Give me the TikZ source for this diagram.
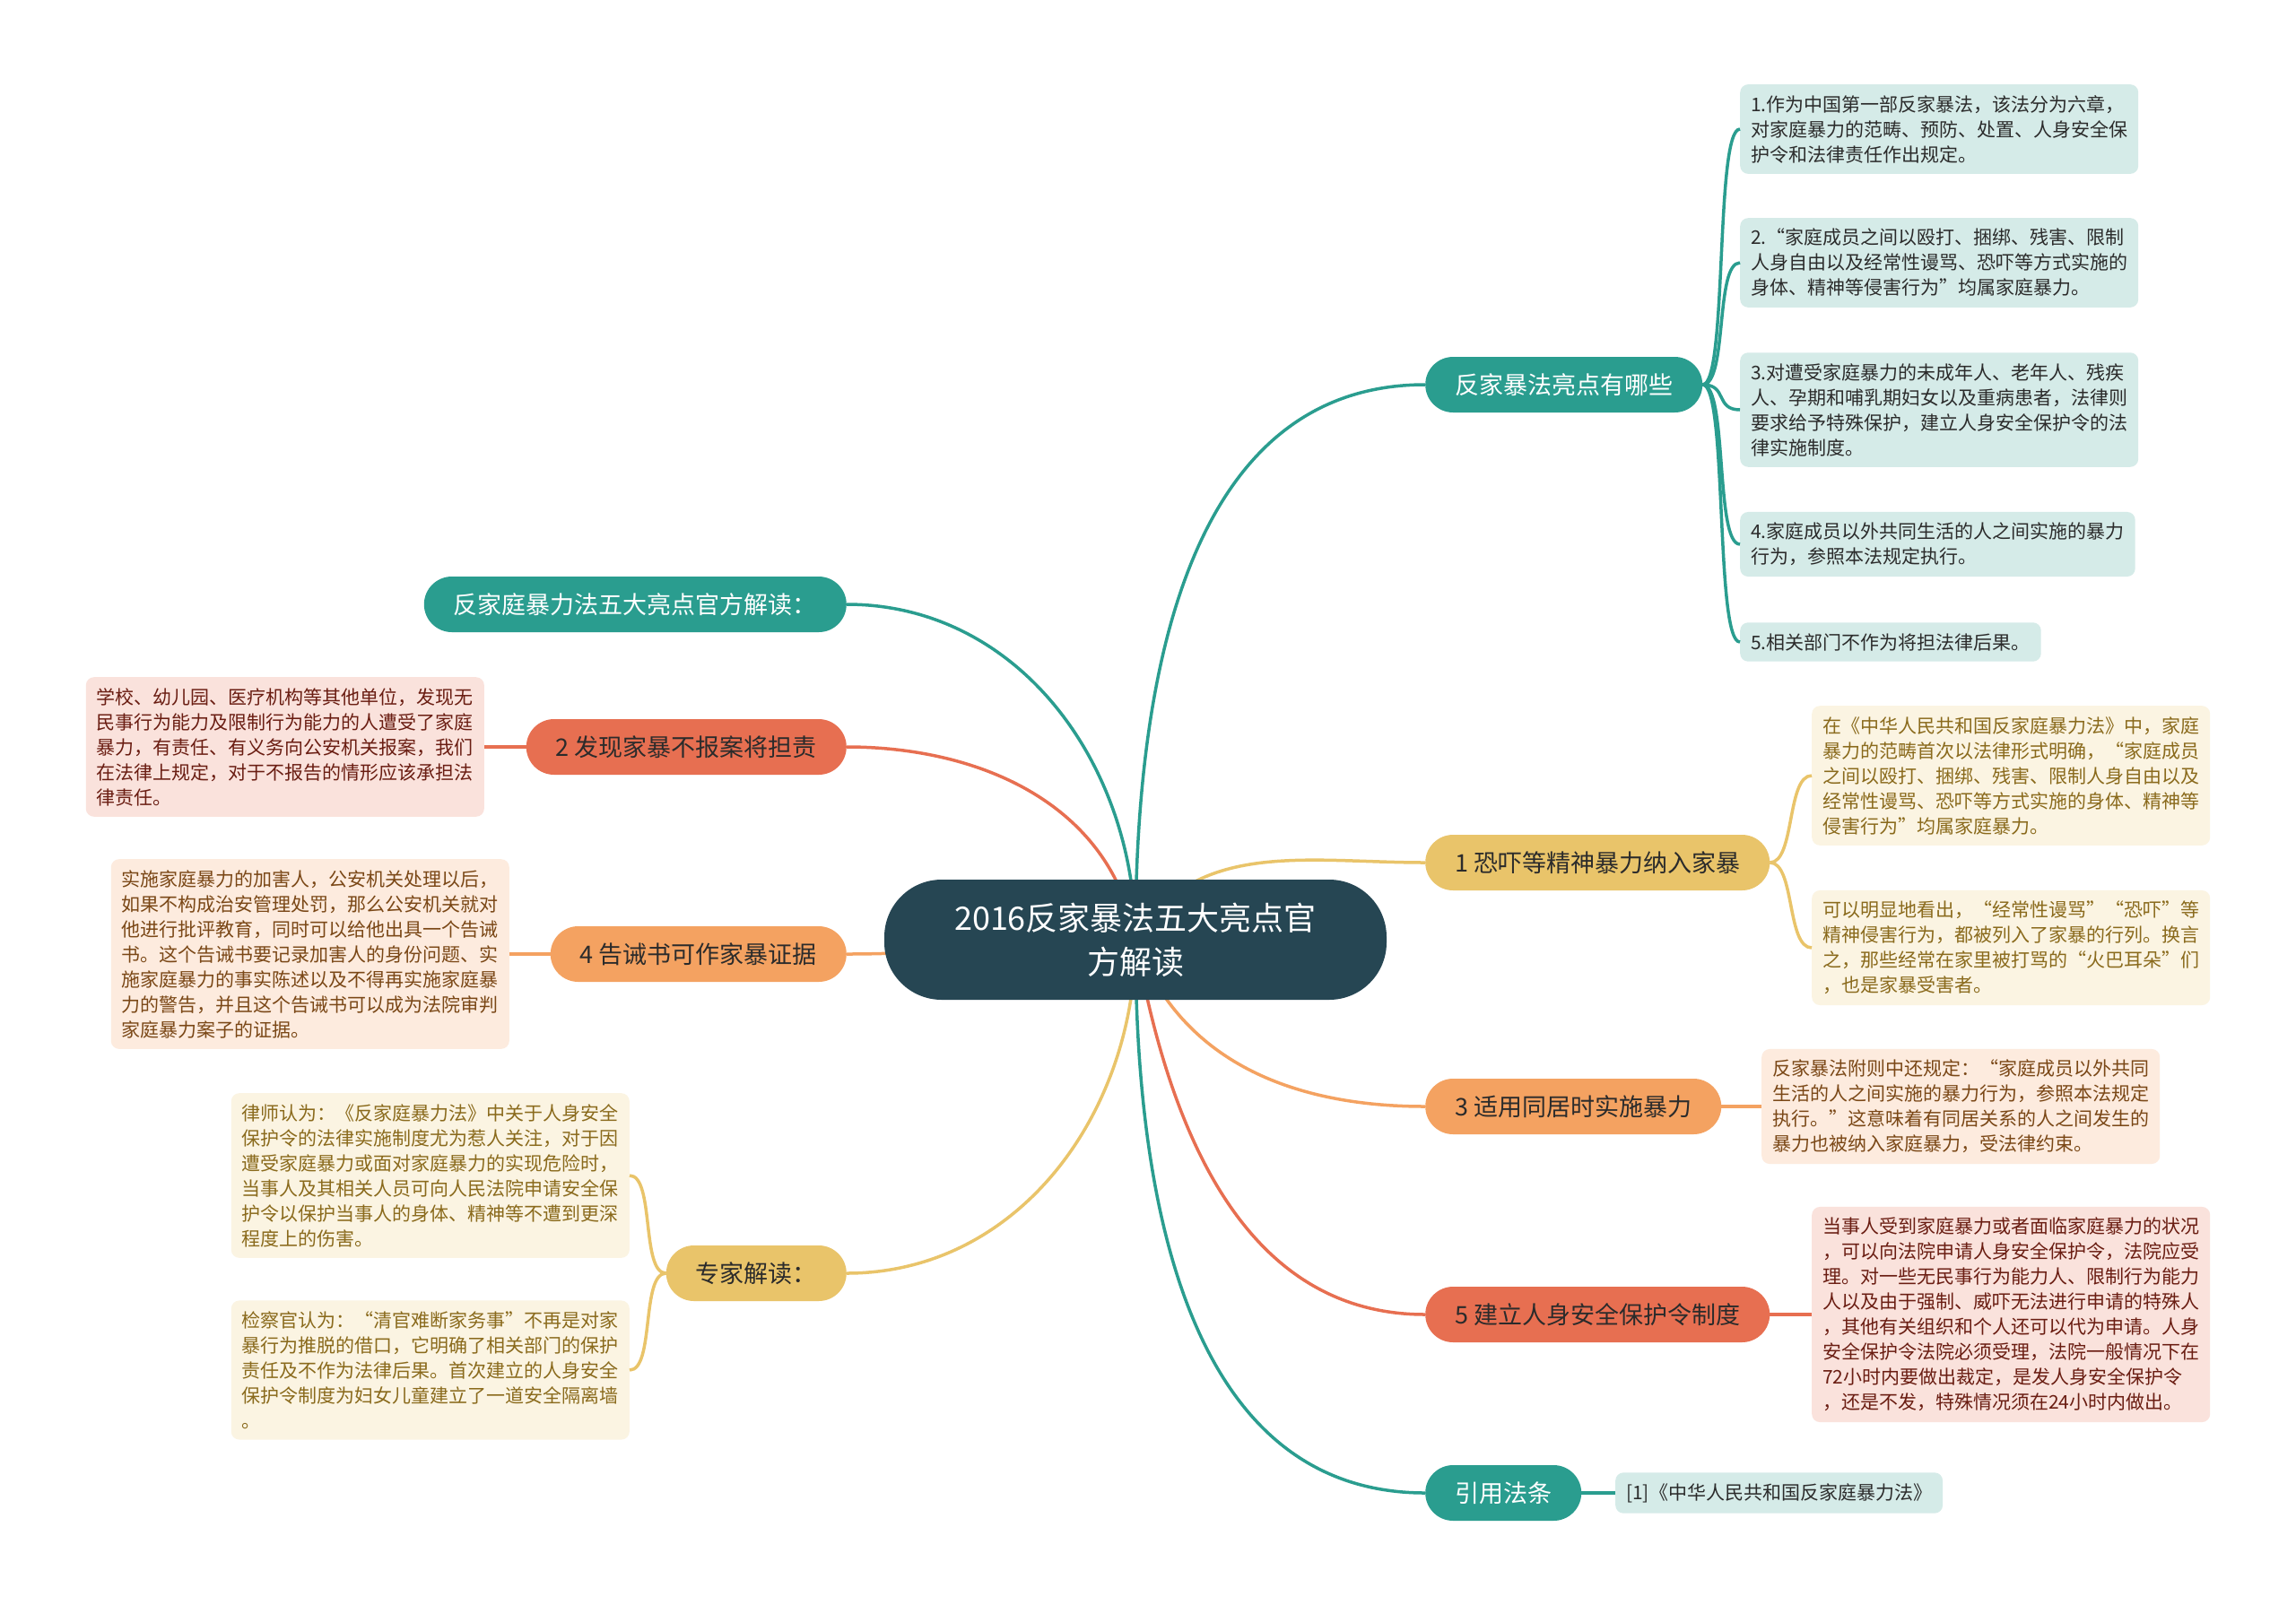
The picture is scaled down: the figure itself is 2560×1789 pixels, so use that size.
\documentclass[tikz,border=0pt]{standalone}
\usepackage{fontspec}
\setmainfont{Noto Sans CJK SC}
\usepackage{tikz}
\usetikzlibrary{positioning, calc, backgrounds}
\usepackage{xcolor}
\definecolor{MapSlate}{HTML}{264653}
\definecolor{MapTeal}{HTML}{2A9D8F}
\definecolor{MapYellow}{HTML}{E9C46A}
\definecolor{MapOrange}{HTML}{F4A261}
\definecolor{MapRed}{HTML}{E76F51}
\definecolor{MapTealPale}{HTML}{D5EBE8}
\definecolor{MapYellowPale}{HTML}{FBF4E2}
\definecolor{MapOrangePale}{HTML}{FDEBDE}
\definecolor{MapRedPale}{HTML}{FAE2DC}
\definecolor{MapInk}{HTML}{2B2B2B}
\definecolor{MapYellowInk}{HTML}{8A6A1C}
\definecolor{MapOrangeInk}{HTML}{7A4716}
\definecolor{MapRedInk}{HTML}{6A1D12}
\tikzset{
    % Box styles - pills for topics, soft cards for details
    mainidea/.style={
        rectangle,
        rounded corners=64pt,
        fill=MapSlate,
        text=white,
        minimum width=560pt,
        minimum height=134pt,
        align=center,
        font=\fontsize{36}{49}\selectfont
    },
    topic/.style={
        rectangle,
        rounded corners=31pt,
        minimum height=62pt,
        inner xsep=33pt,
        inner ysep=0pt,
        text=MapInk,
        font=\fontsize{27}{32}\selectfont
    },
    tealtopic/.style={topic, fill=MapTeal, text=white},
    yellowtopic/.style={topic, fill=MapYellow},
    orangetopic/.style={topic, fill=MapOrange},
    redtopic/.style={topic, fill=MapRed},
    detail/.style={
        rectangle,
        rounded corners=9pt,
        inner xsep=12pt,
        inner ysep=12pt,
        align=left,
        font=\fontsize{21}{28}\selectfont
    },
    tealdetail/.style={detail, fill=MapTealPale, text=MapInk},
    yellowdetail/.style={detail, fill=MapYellowPale, text=MapYellowInk},
    orangedetail/.style={detail, fill=MapOrangePale, text=MapOrangeInk},
    reddetail/.style={detail, fill=MapRedPale, text=MapRedInk},
    % Branch styles - plain curves, no tips
    branch/.style={line width=3.5pt},
    tealbranch/.style={branch, draw=MapTeal},
    yellowbranch/.style={branch, draw=MapYellow},
    orangebranch/.style={branch, draw=MapOrange},
    redbranch/.style={branch, draw=MapRed}
}

\begin{document}
\begin{tikzpicture}[x=1pt, y=1pt]
    \useasboundingbox (0,0) rectangle (2560,-1789);

    % Centre
    \node[mainidea] (main) at (1266,-1048) {2016反家暴法五大亮点官\\方解读};

    % Right topics
    \node[tealtopic, anchor=west] (law) at (1589,-429) {反家暴法亮点有哪些};
    \node[yellowtopic, anchor=west] (p1) at (1589,-962) {1 恐吓等精神暴力纳入家暴};
    \node[orangetopic, anchor=west] (p3) at (1589,-1234) {3 适用同居时实施暴力};
    \node[redtopic, anchor=west] (p5) at (1589,-1466) {5 建立人身安全保护令制度};
    \node[tealtopic, anchor=west] (cite) at (1589,-1665) {引用法条};

    % Left topics
    \node[tealtopic, anchor=east] (official) at (944,-674) {反家庭暴力法五大亮点官方解读：};
    \node[redtopic, anchor=east] (p2) at (944,-833) {2 发现家暴不报案将担责};
    \node[orangetopic, anchor=east] (p4) at (944,-1064) {4 告诫书可作家暴证据};
    \node[yellowtopic, anchor=east] (expert) at (944,-1420) {专家解读：};

    % Details of the law
    \node[tealdetail, anchor=west] (l1) at (1940,-144) {1.作为中国第一部反家暴法，该法分为六章，\\对家庭暴力的范畴、预防、处置、人身安全保\\护令和法律责任作出规定。};
    \node[tealdetail, anchor=west] (l2) at (1940,-293) {2.“家庭成员之间以殴打、捆绑、残害、限制\\人身自由以及经常性谩骂、恐吓等方式实施的\\身体、精神等侵害行为”均属家庭暴力。};
    \node[tealdetail, anchor=west] (l3) at (1940,-457) {3.对遭受家庭暴力的未成年人、老年人、残疾\\人、孕期和哺乳期妇女以及重病患者，法律则\\要求给予特殊保护，建立人身安全保护令的法\\律实施制度。};
    \node[tealdetail, anchor=west] (l4) at (1940,-607) {4.家庭成员以外共同生活的人之间实施的暴力\\行为，参照本法规定执行。};
    \node[tealdetail, anchor=west] (l5) at (1940,-716) {5.相关部门不作为将担法律后果。};

    % Details of point 1
    \node[yellowdetail, anchor=west] (y1) at (2020,-865) {在《中华人民共和国反家庭暴力法》中，家庭\\暴力的范畴首次以法律形式明确，“家庭成员\\之间以殴打、捆绑、残害、限制人身自由以及\\经常性谩骂、恐吓等方式实施的身体、精神等\\侵害行为”均属家庭暴力。};
    \node[yellowdetail, anchor=west] (y2) at (2020,-1057) {可以明显地看出，“经常性谩骂”“恐吓”等\\精神侵害行为，都被列入了家暴的行列。换言\\之，那些经常在家里被打骂的“火巴耳朵”们\\，也是家暴受害者。};

    % Details of points 3, 5 and the citation
    \node[orangedetail, anchor=west] (o3) at (1964,-1234) {反家暴法附则中还规定：“家庭成员以外共同\\生活的人之间实施的暴力行为，参照本法规定\\执行。”这意味着有同居关系的人之间发生的\\暴力也被纳入家庭暴力，受法律约束。};
    \node[reddetail, anchor=west] (r5) at (2020,-1466) {当事人受到家庭暴力或者面临家庭暴力的状况\\，可以向法院申请人身安全保护令，法院应受\\理。对一些无民事行为能力人、限制行为能力\\人以及由于强制、威吓无法进行申请的特殊人\\，其他有关组织和个人还可以代为申请。人身\\安全保护令法院必须受理，法院一般情况下在\\72小时内要做出裁定，是发人身安全保护令\\，还是不发，特殊情况须在24小时内做出。};
    \node[tealdetail, anchor=west] (ref) at (1801,-1665) {[1]《中华人民共和国反家庭暴力法》};

    % Left details
    \node[reddetail, anchor=east] (r2) at (540,-833) {学校、幼儿园、医疗机构等其他单位，发现无\\民事行为能力及限制行为能力的人遭受了家庭\\暴力，有责任、有义务向公安机关报案，我们\\在法律上规定，对于不报告的情形应该承担法\\律责任。};
    \node[orangedetail, anchor=east] (o4) at (568,-1064) {实施家庭暴力的加害人，公安机关处理以后，\\如果不构成治安管理处罚，那么公安机关就对\\他进行批评教育，同时可以给他出具一个告诫\\书。这个告诫书要记录加害人的身份问题、实\\施家庭暴力的事实陈述以及不得再实施家庭暴\\力的警告，并且这个告诫书可以成为法院审判\\家庭暴力案子的证据。};
    \node[yellowdetail, anchor=east] (e1) at (702,-1311) {律师认为：《反家庭暴力法》中关于人身安全\\保护令的法律实施制度尤为惹人关注，对于因\\遭受家庭暴力或面对家庭暴力的实现危险时，\\当事人及其相关人员可向人民法院申请安全保\\护令以保护当事人的身体、精神等不遭到更深\\程度上的伤害。};
    \node[yellowdetail, anchor=east] (e2) at (702,-1528) {检察官认为：“清官难断家务事”不再是对家\\暴行为推脱的借口，它明确了相关部门的保护\\责任及不作为法律后果。首次建立的人身安全\\保护令制度为妇女儿童建立了一道安全隔离墙\\。};

    % Trunk curves, behind the centre
    \begin{scope}[on background layer]
        \fill[white] (0,0) rectangle (2560,-1789);
        \draw[tealbranch] (main.center) to[out=90, in=180] (law.west);
        \draw[yellowbranch] (main.center) to[out=60, in=180] (p1.west);
        \draw[orangebranch] (main.center) to[out=-70, in=180] (p3.west);
        \draw[redbranch] (main.center) to[out=-80, in=180] (p5.west);
        \draw[tealbranch] (main.center) to[out=-90, in=180] (cite.west);
        \draw[tealbranch] (main.center) to[out=90, in=0] (official.east);
        \draw[redbranch] (main.center) to[out=100, in=0] (p2.east);
        \draw[orangebranch] (main.center) to[out=180, in=0] (p4.east);
        \draw[yellowbranch] (main.center) to[out=-90, in=0] (expert.east);
    \end{scope}

    % Braces to the details
    \foreach \card in {l1,l2,l3,l4,l5}
        \draw[tealbranch] (law.east) .. controls +(28,0) and +(-28,0) .. (\card.west);
    \foreach \card in {y1,y2}
        \draw[yellowbranch] (p1.east) .. controls +(28,0) and +(-28,0) .. (\card.west);
    \foreach \card in {e1,e2}
        \draw[yellowbranch] (expert.west) .. controls +(-28,0) and +(28,0) .. (\card.east);
    \draw[orangebranch] (p3.east) -- (o3.west);
    \draw[redbranch] (p5.east) -- (r5.west);
    \draw[tealbranch] (cite.east) -- (ref.west);
    \draw[redbranch] (p2.west) -- (r2.east);
    \draw[orangebranch] (p4.west) -- (o4.east);
\end{tikzpicture}
\end{document}
